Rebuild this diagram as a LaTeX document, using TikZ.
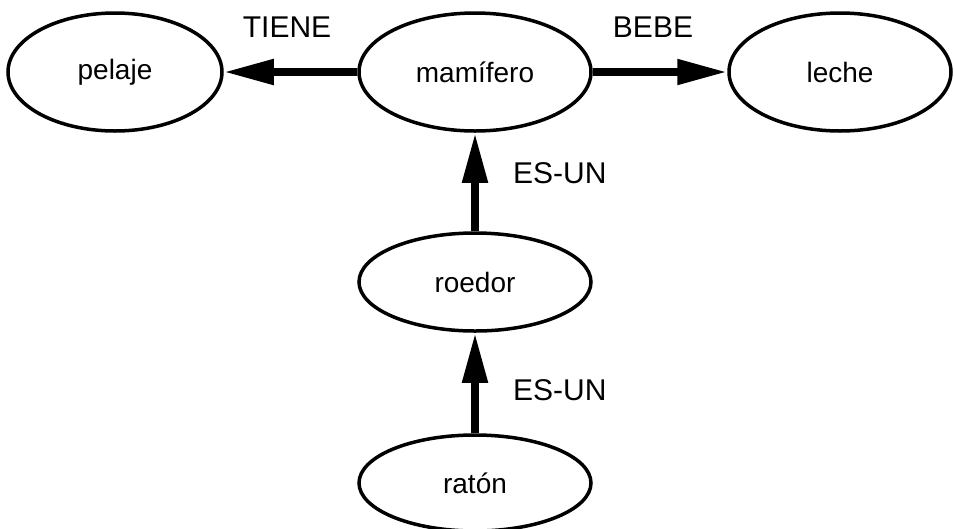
\documentclass[tikz,border=0pt]{standalone}
\usepackage{fontspec}
\setmainfont{Liberation Sans}
\usetikzlibrary{arrows.meta,shapes.geometric}
\tikzset{
  concept/.style={draw, ellipse, line width=3.5pt, inner sep=0pt,
    font=\fontsize{28}{32}\selectfont},
  rel/.style={line width=8pt, -{Triangle[length=50pt,width=24pt]}},
  rellabel/.style={font=\fontsize{30}{34}\selectfont, inner sep=0pt}
}
\begin{document}
\begin{tikzpicture}[x=1pt,y=-1pt]
\useasboundingbox (0,0) rectangle (954,528);
\node[concept, minimum width=214pt, minimum height=118pt] (pelaje) at (115,72) {pelaje\hspace{26pt}};
\node[concept, minimum width=232pt, minimum height=118pt] (mamifero) at (475,72) {mamífero};
\node[concept, minimum width=222pt, minimum height=118pt] (leche) at (840,72) {leche};
\node[concept, minimum width=232pt, minimum height=98pt] (roedor) at (475,282) {roedor};
\node[concept, minimum width=232pt, minimum height=96pt] (raton) at (475,483) {ratón};
\draw[rel] (mamifero.west) -- (pelaje.east);
\draw[rel] (mamifero.east) -- (leche.west);
\draw[rel] (roedor.north) -- (mamifero.south);
\draw[rel] (raton.north) -- (roedor.south);
\node[rellabel] (tiene) at (287,27) {TIENE};
\node[rellabel] (bebe) at (653,27) {BEBE};
\node[rellabel, anchor=west] (esun1) at (513,173) {ES-UN};
\node[rellabel, anchor=west] (esun2) at (513,390) {ES-UN};
\end{tikzpicture}
\end{document}
